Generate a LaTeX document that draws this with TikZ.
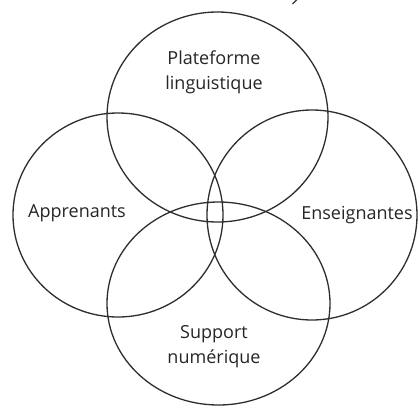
\documentclass[tikz,border=0pt]{standalone}
\usepackage{fontspec}
\setmainfont{Open Sans}
\usetikzlibrary{shapes.geometric}
\begin{document}
\begin{tikzpicture}[x=1pt,y=-1pt,
  ring/.style={draw=black!82, line width=1.3pt},
  lbl/.style={font=\fontsize{18}{25}\selectfont, text=black!85, align=center, inner sep=0pt}]
\useasboundingbox[fill=white] (0,0) rectangle (420,407);
% circles
\coordinate (ctop) at (217.5,117);
\coordinate (cleft) at (118,215);
\coordinate (cright) at (312,215);
\coordinate (cbot) at (218.5,303.5);
\draw[ring] (ctop) ellipse [x radius=110.5pt, y radius=105pt];
\draw[ring] (cleft) ellipse [x radius=105pt, y radius=102pt];
\draw[ring] (cright) ellipse [x radius=105pt, y radius=105pt];
\draw[ring] (cbot) ellipse [x radius=111.5pt, y radius=101.5pt];
% labels
\node[lbl] (plat) at (214,72) {Plateforme\\linguistique};
\node[lbl] (appr) at (77,213.5) {Apprenants};
\node[lbl] (ens) at (357,215) {Enseignantes};
\node[lbl] (supp) at (214,347) {Support\\numérique};
% small cropped mark at the top edge
\coordinate (m1) at (292.5,4);
\coordinate (m2) at (297,-0.5);
\draw[black!80, line width=1.2pt] (m1) -- (m2);
\end{tikzpicture}
\end{document}
